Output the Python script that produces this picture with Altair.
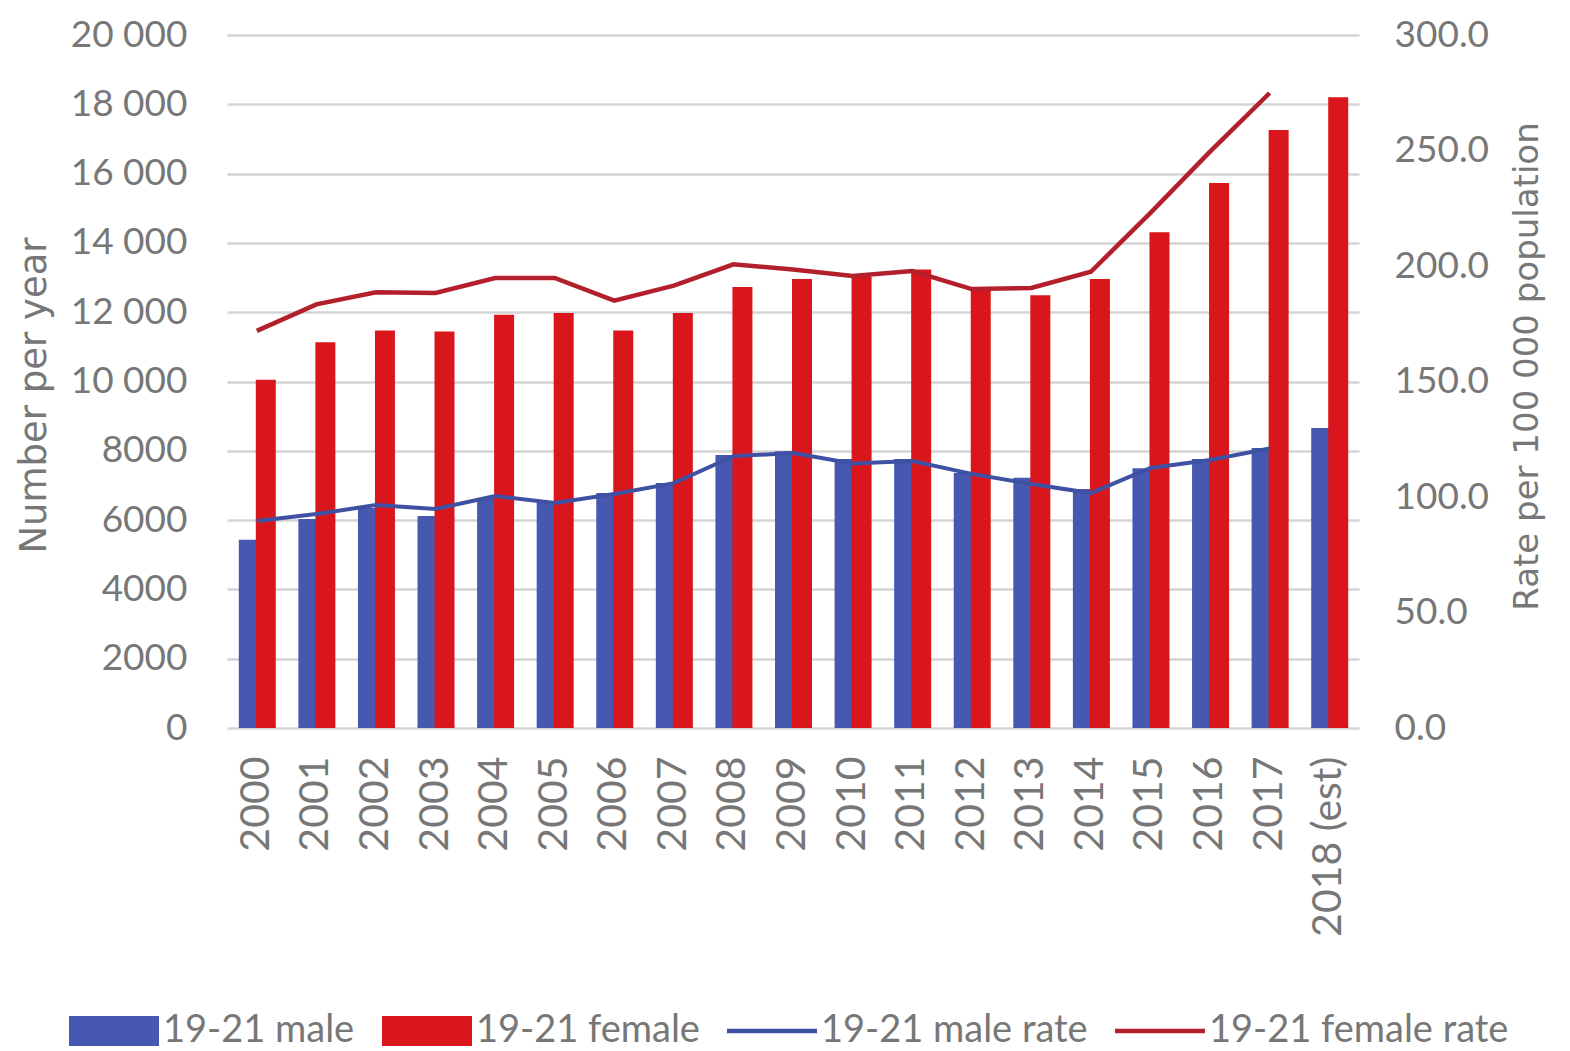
import altair as alt
import pandas as pd

years = ["2000", "2001", "2002", "2003", "2004", "2005", "2006", "2007", "2008", "2009",
         "2010", "2011", "2012", "2013", "2014", "2015", "2016", "2017", "2018 (est)"]
male_counts = [5430, 6030, 6350, 6120, 6640, 6550, 6780, 7070, 7880, 7990,
               7760, 7760, 7360, 7220, 6900, 7500, 7760, 8080, 8660]
female_counts = [10050, 11130, 11470, 11440, 11930, 11980, 11470, 11980, 12730, 12960,
                 13030, 13230, 12730, 12490, 12960, 14310, 15730, 17260, 18200]
male_rates = [89.6, 92.6, 96.5, 94.8, 100.4, 97.4, 101.3, 106.0, 117.7, 119.0,
              114.5, 115.6, 110.0, 105.6, 101.7, 112.6, 116.0, 121.0, None]
female_rates = [171.9, 183.4, 188.6, 188.3, 194.8, 194.8, 185.0, 191.5, 200.7, 198.5,
                195.7, 197.8, 190.0, 190.5, 197.5, 223.0, 249.5, 274.9, None]

series_names = ["19-21 male", "19-21 female", "19-21 male rate", "19-21 female rate"]
series_colors = ["#4658b0", "#d9161b", "#3f51a3", "#b3202c"]
bar_sym = "M-3,-1H3V1H-3Z"
line_sym = "M-3,-0.15H3V0.15H-3Z"
series_shapes = [bar_sym, bar_sym, line_sym, line_sym]

count_ticks = list(range(0, 20001, 2000))
rate_ticks = [0, 50, 100, 150, 200, 250, 300]

df = pd.DataFrame({
    "year": years,
    "male": male_counts,
    "female": female_counts,
    "male_rate": male_rates,
    "female_rate": female_rates,
})
legend_df = pd.DataFrame({"series": series_names})

GRAY = "#777777"
TICK_FONT = "Lato"
TITLE_FONT = "DejaVu Sans"

x_enc = alt.X(
    "year:N", sort=years,
    scale=alt.Scale(paddingInner=0, paddingOuter=0),
    axis=alt.Axis(title=None, labelAngle=270, labelFontSize=41, labelFont=TICK_FONT,
                  labelColor=GRAY, labelPadding=28, labelLimit=0, ticks=False,
                  domain=False, grid=False),
)

left_axis = alt.Axis(
    values=count_ticks, title="Number per year",
    labelExpr="datum.value >= 10000 ? replace(format(datum.value, ','), ',', ' ') : format(datum.value, 'd')",
    labelFont=TICK_FONT, labelFontSize=37, labelColor=GRAY, labelPadding=40,
    titleFont=TITLE_FONT, titleFontSize=37, titleColor=GRAY, titleFontWeight="normal",
    titlePadding=17, titleY=360, ticks=False, domain=False,
    grid=True, gridColor="#d4d4d4", gridWidth=2.5,
)
right_axis = alt.Axis(
    values=rate_ticks, format=".1f", orient="right", title="Rate per 100 000 population",
    labelFont=TICK_FONT, labelFontSize=37, labelColor=GRAY, labelPadding=35,
    titleFont=TITLE_FONT, titleFontSize=34, titleColor=GRAY, titleFontWeight="normal",
    titleAngle=270, titleBaseline="top", titlePadding=22, titleY=331,
    ticks=False, domain=False, grid=False,
)
count_scale = alt.Scale(domain=[0, 20000], nice=False)
rate_scale = alt.Scale(domain=[0, 300], nice=False)

base = alt.Chart(df)

male_bar = base.mark_bar(width=20, xOffset=-8, color=series_colors[0]).encode(
    x=x_enc, y=alt.Y("male:Q", scale=count_scale, axis=left_axis)
)
female_bar = base.mark_bar(width=20, xOffset=9, color=series_colors[1]).encode(
    x=x_enc, y=alt.Y("female:Q", scale=count_scale, axis=left_axis)
)

legend_def = alt.Legend(
    title=None, orient="none", legendX=-132, legendY=977, direction="horizontal", columns=4,
    symbolSize=900, symbolStrokeWidth=0, labelFont=TICK_FONT, labelFontSize=38,
    labelColor=GRAY, labelOffset=30, columnPadding=27, labelLimit=0, padding=0,
)
legend_layer = alt.Chart(legend_df).mark_point(filled=True, opacity=1, strokeWidth=0).encode(
    color=alt.Color("series:N", scale=alt.Scale(domain=series_names, range=series_colors), legend=legend_def),
    shape=alt.Shape("series:N", scale=alt.Scale(domain=series_names, range=series_shapes), legend=legend_def),
).transform_filter("datum.series == 'nothing'")

male_line = base.mark_line(color=series_colors[2], strokeWidth=4).encode(
    x=x_enc, y=alt.Y("male_rate:Q", scale=rate_scale, axis=right_axis)
).transform_filter("datum.male_rate != null")
female_line = base.mark_line(color=series_colors[3], strokeWidth=4.5).encode(
    x=x_enc, y=alt.Y("female_rate:Q", scale=rate_scale, axis=right_axis)
).transform_filter("datum.female_rate != null")

left_group = alt.layer(male_bar, female_bar, legend_layer)
right_group = alt.layer(male_line, female_line)

chart = alt.layer(left_group, right_group).resolve_scale(y="independent").properties(
    width=1132, height=693,
    padding={"left": 7, "top": 8, "right": 5, "bottom": 5},
    background="white",
).configure_view(stroke=None)

chart.save("out.html", embed_options={"renderer": "svg", "actions": False})
